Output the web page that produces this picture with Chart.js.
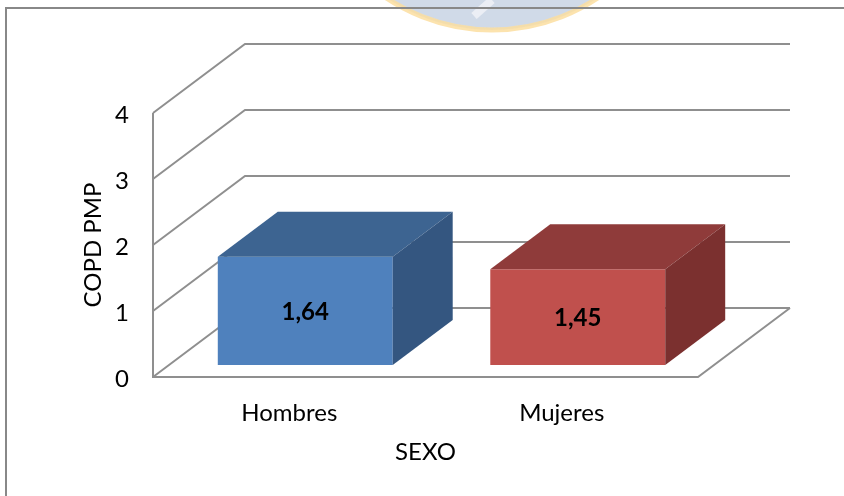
<!DOCTYPE html>
<html>
<head>
<meta charset="utf-8">
<script src="https://cdn.jsdelivr.net/npm/chart.js@4.4.1/dist/chart.umd.min.js"></script>
<style>
    html, body { margin: 0; padding: 0; background: #fff; }
    canvas { display: block; }
</style>
</head>
<body>
<canvas id="chart-sexo" width="844" height="496"></canvas>
<script>
var categories = ['Hombres', 'Mujeres'];
var copdValues = [1.64, 1.45];
var yTickMax = 4;
var yTickStep = 1;

var frontColors = ['#4F81BD', '#C0504D'];
var topColors = ['#3D6491', '#8F3B3A'];
var sideColors = ['#345680', '#7B302F'];

// depth of the 3d box (floor runs from front plane to back wall)
var depthX = 92;
var depthY = -69;
var barDepthStart = 0.174;
var barDepthEnd = 0.826;

var fontFamily = 'Lato, "Open Sans", sans-serif';
var lineColor = '#8f8f8f';

function fmtValue(v) {
    return v.toFixed(2).replace('.', ',');
}

var box3d = {
    id: 'box3d',
    beforeDraw: function (chart) {
        var ctx = chart.ctx;
        ctx.save();
        // faint seal behind the top edge
        ctx.beginPath();
        ctx.arc(492, -160, 190, 0, Math.PI * 2);
        ctx.fillStyle = 'rgba(203, 214, 229, 0.9)';
        ctx.fill();
        ctx.lineWidth = 5;
        ctx.strokeStyle = 'rgba(252, 222, 160, 0.85)';
        ctx.stroke();
        ctx.beginPath();
        ctx.moveTo(474, 16);
        ctx.lineTo(492, 0);
        ctx.lineWidth = 8;
        ctx.strokeStyle = 'rgba(238, 241, 246, 0.9)';
        ctx.stroke();
        // outer frame
        ctx.lineWidth = 2;
        ctx.strokeStyle = '#888';
        ctx.strokeRect(6, 8, 860, 520);
        ctx.restore();
    },
    beforeDatasetsDraw: function (chart) {
        var ctx = chart.ctx;
        var area = chart.chartArea;
        var yScale = chart.scales.y;
        ctx.save();
        ctx.lineWidth = 2;
        ctx.strokeStyle = lineColor;
        ctx.lineJoin = 'miter';
        // side wall + back wall grid
        yScale.ticks.forEach(function (t) {
            var py = yScale.getPixelForValue(t.value);
            ctx.beginPath();
            ctx.moveTo(area.left, py);
            ctx.lineTo(area.left + depthX, py + depthY);
            ctx.lineTo(area.right + depthX, py + depthY);
            ctx.stroke();
        });
        var y0 = yScale.getPixelForValue(0);
        ctx.beginPath();
        ctx.moveTo(area.left, yScale.getPixelForValue(yTickMax));
        ctx.lineTo(area.left, y0);
        ctx.lineTo(area.right, y0);
        ctx.lineTo(area.right + depthX, y0 + depthY);
        ctx.stroke();
        ctx.restore();
    },
    afterDatasetsDraw: function (chart) {
        var ctx = chart.ctx;
        var yScale = chart.scales.y;
        var meta = chart.getDatasetMeta(0);
        var dx1 = depthX * barDepthStart, dy1 = depthY * barDepthStart;
        var dx2 = depthX * (barDepthEnd - barDepthStart), dy2 = depthY * (barDepthEnd - barDepthStart);
        ctx.save();
        meta.data.forEach(function (bar, i) {
            var p = bar.getProps(['x', 'y', 'base', 'width'], true);
            var l = p.x - p.width / 2 + dx1;
            var r = p.x + p.width / 2 + dx1;
            var t = yScale.getPixelForValue(copdValues[i]) + dy1;
            var b = yScale.getPixelForValue(0) + dy1;
            // front
            ctx.fillStyle = frontColors[i];
            ctx.fillRect(l, t, r - l, b - t);
            // top
            ctx.beginPath();
            ctx.moveTo(l, t);
            ctx.lineTo(r, t);
            ctx.lineTo(r + dx2, t + dy2);
            ctx.lineTo(l + dx2, t + dy2);
            ctx.closePath();
            ctx.fillStyle = topColors[i];
            ctx.fill();
            // right side
            ctx.beginPath();
            ctx.moveTo(r, t);
            ctx.lineTo(r + dx2, t + dy2);
            ctx.lineTo(r + dx2, b + dy2);
            ctx.lineTo(r, b);
            ctx.closePath();
            ctx.fillStyle = sideColors[i];
            ctx.fill();
            // value label
            ctx.fillStyle = '#000';
            ctx.font = 'bold 24px ' + fontFamily;
            ctx.textAlign = 'center';
            ctx.textBaseline = 'middle';
            ctx.fillText(fmtValue(copdValues[i]), (l + r) / 2, (t + b) / 2 + 1);
        });
        ctx.restore();
    }
};

const chart_sexo_context = document.getElementById('chart-sexo').getContext('2d');
chart_sexo_data = {
    labels: categories,
    datasets: [{
        label: 'COPD PMP',
        data: copdValues,
        backgroundColor: 'rgba(0,0,0,0)',
        borderWidth: 0,
        categoryPercentage: 1,
        barPercentage: 0.642
    }]
};

chart_sexo = new Chart(chart_sexo_context, {
    type: 'bar',
    data: chart_sexo_data,
    plugins: [box3d],
    options: {
        responsive: false,
        animation: false,
        devicePixelRatio: 1,
        layout: {
            padding: { left: 75, right: 146, top: 113, bottom: 25 }
        },
        plugins: {
            legend: { display: false },
            tooltip: { enabled: false }
        },
        scales: {
            x: {
                grid: { display: false, drawTicks: false },
                border: { display: false },
                ticks: {
                    color: '#000',
                    padding: 22,
                    font: { family: fontFamily, size: 24 }
                },
                title: {
                    display: true,
                    text: 'SEXO',
                    color: '#000',
                    font: { family: fontFamily, size: 24 }
                },
                afterFit: function (scale) { scale.height = 94; }
            },
            y: {
                min: 0,
                max: yTickMax,
                grid: { display: false, drawTicks: false },
                border: { display: false },
                ticks: {
                    stepSize: yTickStep,
                    color: '#000',
                    padding: 24,
                    labelOffset: 2,
                    font: { family: fontFamily, size: 24 }
                },
                title: {
                    display: true,
                    text: 'COPD PMP',
                    color: '#000',
                    font: { family: fontFamily, size: 24 }
                },
                afterFit: function (scale) { scale.width = 78; }
            }
        }
    }
});
</script>
</body>
</html>
